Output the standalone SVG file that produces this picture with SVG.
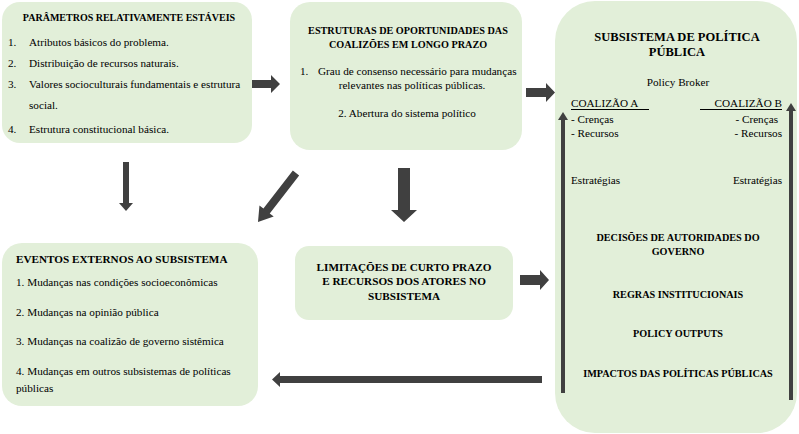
<svg xmlns="http://www.w3.org/2000/svg" width="799" height="434" viewBox="0 0 799 434">
<style>
.box{fill:#e2efd9;stroke:none}
text{font-family:"Liberation Serif","Times New Roman",serif;fill:#000}
.t{font-weight:bold}
.b{font-size:11.2px}
.m{text-anchor:middle}
.e{text-anchor:end}
.arr{fill:#404040}
.ln{stroke:#000;stroke-width:1}
</style>
<rect width="799" height="434" fill="#fff"/>
<g id="parametros">
<rect class="box" x="2" y="2" width="250" height="141" rx="18"/>
<text class="t m" x="129" y="21" font-size="10">PARÂMETROS RELATIVAMENTE ESTÁVEIS</text>
<text class="b" x="8" y="46">1.</text><text class="b" x="29" y="46">Atributos básicos do problema.</text>
<text class="b" x="8" y="67">2.</text><text class="b" x="29" y="67">Distribuição de recursos naturais.</text>
<text class="b" x="8" y="88">3.</text><text class="b" x="29" y="88">Valores socioculturais fundamentais e estrutura</text>
<text class="b" x="29" y="109">social.</text>
<text class="b" x="8" y="133">4.</text><text class="b" x="29" y="133">Estrutura constitucional básica.</text>
</g>
<g id="estruturas">
<rect class="box" x="290" y="2" width="232" height="148" rx="20"/>
<text class="t m" x="408" y="34" font-size="10.2">ESTRUTURAS DE OPORTUNIDADES DAS</text>
<text class="t m" x="408" y="48" font-size="10.2">COALIZÕES EM LONGO PRAZO</text>
<text class="b" x="300" y="75">1.</text><text class="b" x="318" y="75">Grau de consenso necessário para mudanças</text>
<text class="b m" x="412" y="89">relevantes nas políticas públicas.</text>
<text class="b m" x="407" y="117">2. Abertura do sistema político</text>
</g>
<g id="subsistema">
<rect class="box" x="555" y="1" width="242" height="432" rx="40"/>
<text class="t m" x="677" y="41" font-size="12.5">SUBSISTEMA DE POLÍTICA</text>
<text class="t m" x="677" y="56" font-size="12.5">PÚBLICA</text>
<text class="b m" x="678" y="86">Policy Broker</text>
<text class="b" x="571" y="107">COALIZÃO A</text>
<line class="ln" x1="571" y1="109.5" x2="649" y2="109.5"/>
<text class="b e" x="782" y="107">COALIZÃO B</text>
<line class="ln" x1="700" y1="109.5" x2="782" y2="109.5"/>
<text class="b" x="571" y="123">- Crenças</text>
<text class="b" x="571" y="137">- Recursos</text>
<text class="b e" x="778" y="123">- Crenças</text>
<text class="b e" x="782" y="137">- Recursos</text>
<text class="b" x="571" y="184">Estratégias</text>
<text class="b e" x="782" y="184">Estratégias</text>
<text class="t m" x="678" y="241" font-size="10.2">DECISÕES DE AUTORIDADES DO</text>
<text class="t m" x="678" y="255" font-size="10.2">GOVERNO</text>
<text class="t m" x="678" y="298" font-size="10.2">REGRAS INSTITUCIONAIS</text>
<text class="t m" x="678" y="337" font-size="10.2">POLICY OUTPUTS</text>
<text class="t m" x="678" y="377" font-size="10.2">IMPACTOS DAS POLÍTICAS PÚBLICAS</text>
</g>
<g id="eventos">
<rect class="box" x="2" y="243" width="256" height="163" rx="20"/>
<text class="t" x="16" y="263" font-size="11.2">EVENTOS EXTERNOS AO SUBSISTEMA</text>
<text class="b" x="16" y="286">1. Mudanças nas condições socioeconômicas</text>
<text class="b" x="16" y="316">2. Mudanças na opinião pública</text>
<text class="b" x="16" y="345">3. Mudanças na coalizão de governo sistêmica</text>
<text class="b" x="16" y="375">4. Mudanças em outros subsistemas de políticas</text>
<text class="b" x="16" y="392">públicas</text>
</g>
<g id="limitacoes">
<rect class="box" x="295" y="246" width="218" height="74" rx="14"/>
<text class="t m" x="404" y="271" font-size="11.2">LIMITAÇÕES DE CURTO PRAZO</text>
<text class="t m" x="404" y="285" font-size="11.2">E RECURSOS DOS ATORES NO</text>
<text class="t m" x="404" y="300" font-size="11.2">SUBSISTEMA</text>
</g>
<g id="connectors">
<polygon class="arr" points="252,80 271,80 271,75 280,84 271,93 271,88 252,88"/>
<polygon class="arr" points="526,88 546,88 546,83 555,92.5 546,102 546,97 526,97"/>
<polygon class="arr" points="123,162 129,162 129,203 133,203 126,211 119,203 123,203"/>
<polygon class="arr" points="0,-4 48,-4 48,-9 62,0 48,9 48,4 0,4" transform="translate(296,173) rotate(127.8)"/>
<polygon class="arr" points="398,168 410,168 410,210 417,210 404,222 391,210 398,210"/>
<polygon class="arr" points="520,275 540,275 540,270 549,280 540,290 540,285 520,285"/>
<polygon class="arr" points="542,376 280,376 280,372 272,379.5 280,387 280,383 542,383"/>
<polygon class="arr" points="561,393 561,120 558,120 563,112 568,120 565,120 565,393"/>
<polygon class="arr" points="789,400 789,111 786,111 791,103 796,111 793,111 793,400"/>
</g>
</svg>
